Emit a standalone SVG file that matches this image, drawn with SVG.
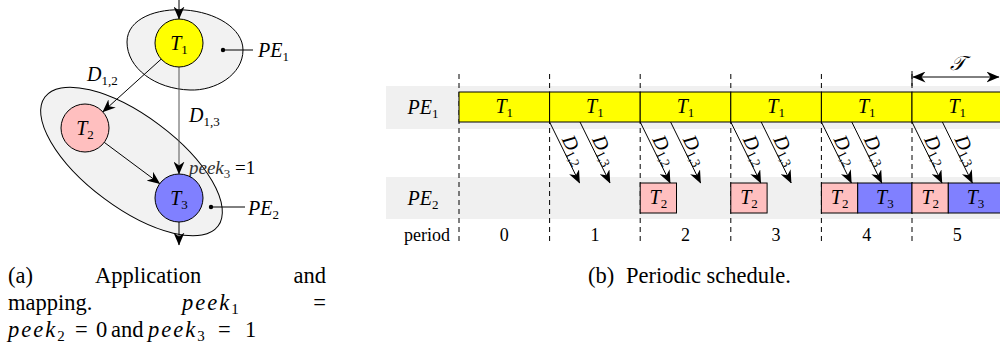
<svg xmlns="http://www.w3.org/2000/svg" width="1000" height="354" viewBox="0 0 1000 354">
<style>
text{font-family:"Liberation Serif","Times New Roman",serif;fill:#000}
.m{font-style:italic;font-size:20px}
.s{font-style:normal;font-size:13px}
.d{font-style:italic;font-size:20px}
.ds{font-style:normal;font-size:13px}
.r{font-size:18px}
.cap{font-size:22.5px}
.ci{font-style:italic;letter-spacing:2px}
.cs{font-style:normal;font-size:15px}
.ln{stroke:#000;stroke-width:1;fill:none}
.ar{stroke:#000;stroke-width:1;fill:none;marker-end:url(#ah)}
.dash{stroke:#000;stroke-width:1;stroke-dasharray:5,4;fill:none}
.grp{fill:#f2f2f2;stroke:#000;stroke-width:1}
.band{fill:#f0f0f0}
.y{fill:#ffff00;stroke:#000;stroke-width:1}
.p{fill:#ffbfbf;stroke:#000;stroke-width:1}
.b{fill:#8080ff;stroke:#000;stroke-width:1}
</style>
<defs>
<marker id="ah" viewBox="0 0 13 11" refX="12.5" refY="5.5" markerWidth="13" markerHeight="11" markerUnits="userSpaceOnUse" orient="auto-start-reverse">
<path d="M0,0 L13,5.5 L0,11 L4,5.5 Z" fill="#000"/>
</marker>
</defs>

<!-- (a) application graph -->
<g id="PE1">
<path class="grp" d="M127,42 C127,18 158,8 185,10 C215,12 243,28 243,50 C243,75 215,91 190,90 C155,89 127,68 127,42 Z"/>
<circle cx="223" cy="50" r="2.2" fill="#000"/>
<line class="ln" x1="223" y1="50" x2="253" y2="50"/>
<text class="m" x="258" y="57">PE<tspan class="s" dy="4">1</tspan></text>
</g>
<g id="PE2">
<ellipse class="grp" cx="131.5" cy="161.5" rx="108" ry="46" transform="rotate(36.7 131.5 161.5)"/>
<circle cx="211" cy="207" r="2.2" fill="#000"/>
<line class="ln" x1="211" y1="207" x2="245" y2="207"/>
<text class="m" x="248" y="215">PE<tspan class="s" dy="4">2</tspan></text>
</g>
<g id="connectors">
<line class="ar" x1="179" y1="0" x2="179" y2="19"/>
<line class="ar" x1="161.2" y1="59.1" x2="102.8" y2="111.9"/>
<line class="ar" x1="179" y1="67" x2="179" y2="174" style="stroke:#555"/>
<line class="ar" x1="104.2" y1="142.3" x2="159.8" y2="183.7"/>
<line class="ar" x1="179" y1="222" x2="179" y2="245"/>
<text class="m" x="87" y="81">D<tspan class="s" dy="4">1,2</tspan></text>
<text class="m" x="189" y="122">D<tspan class="s" dy="4">1,3</tspan></text>
<text class="m" x="189" y="174" style="font-size:19px"><tspan fill="#333">peek</tspan><tspan class="s" dy="4" fill="#333">3</tspan><tspan style="font-style:normal" dy="-4"> =1</tspan></text>
</g>
<g id="T1">
<circle class="y" cx="179" cy="43" r="24"/>
<text class="m" x="179" y="50" text-anchor="middle">T<tspan class="s" dy="4">1</tspan></text>
</g>
<g id="T2">
<circle class="p" cx="85" cy="128" r="24"/>
<text class="m" x="85" y="135" text-anchor="middle">T<tspan class="s" dy="4">2</tspan></text>
</g>
<g id="T3">
<circle class="b" cx="179" cy="198" r="24"/>
<text class="m" x="179" y="205" text-anchor="middle">T<tspan class="s" dy="4">3</tspan></text>
</g>

<!-- (b) periodic schedule -->
<g id="schedule">
<rect class="band" x="386" y="86" width="614" height="43"/>
<rect class="band" x="386" y="177" width="614" height="42"/>
<g id="period-lines">
<line class="dash" x1="459" y1="74" x2="459" y2="242"/>
<line class="dash" x1="549.6" y1="74" x2="549.6" y2="242"/>
<line class="dash" x1="640.2" y1="74" x2="640.2" y2="242"/>
<line class="dash" x1="730.8" y1="74" x2="730.8" y2="242"/>
<line class="dash" x1="821.4" y1="74" x2="821.4" y2="242"/>
<line class="dash" x1="912" y1="74" x2="912" y2="242"/>
<line class="ln" x1="912" y1="71" x2="912" y2="86"/>
</g>
<text class="m" x="423" y="114" text-anchor="middle">PE<tspan class="s" dy="4">1</tspan></text>
<text class="m" x="423" y="205" text-anchor="middle">PE<tspan class="s" dy="4">2</tspan></text>
<g id="PE1-row">
<rect class="y" x="459" y="92" width="90.6" height="30"/>
<rect class="y" x="549.6" y="92" width="90.6" height="30"/>
<rect class="y" x="640.2" y="92" width="90.6" height="30"/>
<rect class="y" x="730.8" y="92" width="90.6" height="30"/>
<rect class="y" x="821.4" y="92" width="90.6" height="30"/>
<rect class="y" x="912" y="92" width="90.6" height="30"/>
<text class="m" x="504.3" y="113" text-anchor="middle">T<tspan class="s" dy="4">1</tspan></text>
<text class="m" x="594.9" y="113" text-anchor="middle">T<tspan class="s" dy="4">1</tspan></text>
<text class="m" x="685.5" y="113" text-anchor="middle">T<tspan class="s" dy="4">1</tspan></text>
<text class="m" x="776.1" y="113" text-anchor="middle">T<tspan class="s" dy="4">1</tspan></text>
<text class="m" x="866.7" y="113" text-anchor="middle">T<tspan class="s" dy="4">1</tspan></text>
<text class="m" x="957.3" y="113" text-anchor="middle">T<tspan class="s" dy="4">1</tspan></text>
</g>
<g id="PE2-row">
<rect class="p" x="640.2" y="183" width="36.3" height="30"/>
<rect class="p" x="730.8" y="183" width="36.3" height="30"/>
<rect class="p" x="821.4" y="183" width="36.3" height="30"/>
<rect class="b" x="857.7" y="183" width="54.3" height="30"/>
<rect class="p" x="912" y="183" width="36.3" height="30"/>
<rect class="b" x="948.3" y="183" width="54.3" height="30"/>
<text class="m" x="658.4" y="204" text-anchor="middle">T<tspan class="s" dy="4">2</tspan></text>
<text class="m" x="749" y="204" text-anchor="middle">T<tspan class="s" dy="4">2</tspan></text>
<text class="m" x="839.6" y="204" text-anchor="middle">T<tspan class="s" dy="4">2</tspan></text>
<text class="m" x="884.9" y="204" text-anchor="middle">T<tspan class="s" dy="4">3</tspan></text>
<text class="m" x="930.2" y="204" text-anchor="middle">T<tspan class="s" dy="4">2</tspan></text>
<text class="m" x="975.5" y="204" text-anchor="middle">T<tspan class="s" dy="4">3</tspan></text>
</g>
<g id="data-arrows">
<line class="ar" x1="549.6" y1="122" x2="579.6" y2="183"/>
<line class="ar" x1="580" y1="122" x2="610" y2="183"/>
<line class="ar" x1="640.2" y1="122" x2="670.2" y2="183"/>
<line class="ar" x1="670.6" y1="122" x2="700.6" y2="183"/>
<line class="ar" x1="730.8" y1="122" x2="760.8" y2="183"/>
<line class="ar" x1="761.2" y1="122" x2="791.2" y2="183"/>
<line class="ar" x1="821.4" y1="122" x2="851.4" y2="183"/>
<line class="ar" x1="851.8" y1="122" x2="881.8" y2="183"/>
<line class="ar" x1="912" y1="122" x2="942" y2="183"/>
<line class="ar" x1="942.4" y1="122" x2="972.4" y2="183"/>
<text class="d" transform="translate(564.6,152.5) rotate(63.8)" x="2" y="-3" text-anchor="middle">D<tspan class="ds" dy="3">1,2</tspan></text>
<text class="d" transform="translate(595,152.5) rotate(63.8)" x="2" y="-3" text-anchor="middle">D<tspan class="ds" dy="3">1,3</tspan></text>
<text class="d" transform="translate(655.2,152.5) rotate(63.8)" x="2" y="-3" text-anchor="middle">D<tspan class="ds" dy="3">1,2</tspan></text>
<text class="d" transform="translate(685.6,152.5) rotate(63.8)" x="2" y="-3" text-anchor="middle">D<tspan class="ds" dy="3">1,3</tspan></text>
<text class="d" transform="translate(745.8,152.5) rotate(63.8)" x="2" y="-3" text-anchor="middle">D<tspan class="ds" dy="3">1,2</tspan></text>
<text class="d" transform="translate(776.2,152.5) rotate(63.8)" x="2" y="-3" text-anchor="middle">D<tspan class="ds" dy="3">1,3</tspan></text>
<text class="d" transform="translate(836.4,152.5) rotate(63.8)" x="2" y="-3" text-anchor="middle">D<tspan class="ds" dy="3">1,2</tspan></text>
<text class="d" transform="translate(866.8,152.5) rotate(63.8)" x="2" y="-3" text-anchor="middle">D<tspan class="ds" dy="3">1,3</tspan></text>
<text class="d" transform="translate(927,152.5) rotate(63.8)" x="2" y="-3" text-anchor="middle">D<tspan class="ds" dy="3">1,2</tspan></text>
<text class="d" transform="translate(957.4,152.5) rotate(63.8)" x="2" y="-3" text-anchor="middle">D<tspan class="ds" dy="3">1,3</tspan></text>
</g>
<g id="tau">
<line class="ar" x1="913" y1="77" x2="999" y2="77" style="marker-start:url(#ah)"/>
<text x="957" y="70" text-anchor="middle" style="font-family:'DejaVu Serif','Liberation Serif',serif;font-style:italic;font-size:20px">𝒯</text>
</g>
<g id="period-row">
<text class="r" x="427" y="241" text-anchor="middle">period</text>
<text class="r" x="504.3" y="241" text-anchor="middle">0</text>
<text class="r" x="594.9" y="241" text-anchor="middle">1</text>
<text class="r" x="685.5" y="241" text-anchor="middle">2</text>
<text class="r" x="776.1" y="241" text-anchor="middle">3</text>
<text class="r" x="866.7" y="241" text-anchor="middle">4</text>
<text class="r" x="957.3" y="241" text-anchor="middle">5</text>
</g>
</g>

<!-- captions -->
<g id="caption-a">
<text class="cap" x="8" y="283">(a)</text>
<text class="cap" x="95" y="283">Application</text>
<text class="cap" x="326" y="283" text-anchor="end">and</text>
<text class="cap" x="8" y="310">mapping.</text>
<text class="cap" x="182" y="310"><tspan class="ci">peek</tspan><tspan class="cs" dy="4">1</tspan></text>
<text class="cap" x="326" y="310" text-anchor="end">=</text>
<text class="cap" y="337"><tspan class="ci" x="8">peek</tspan><tspan class="cs" dy="4">2</tspan><tspan x="75" dy="-4">=</tspan><tspan x="96">0</tspan><tspan x="111">and</tspan><tspan class="ci" x="148">peek</tspan><tspan class="cs" dy="4">3</tspan><tspan x="218" dy="-4">=</tspan><tspan x="245">1</tspan></text>
</g>
<g id="caption-b">
<text class="cap" x="588" y="283">(b)<tspan x="626">Periodic schedule.</tspan></text>
</g>
</svg>
